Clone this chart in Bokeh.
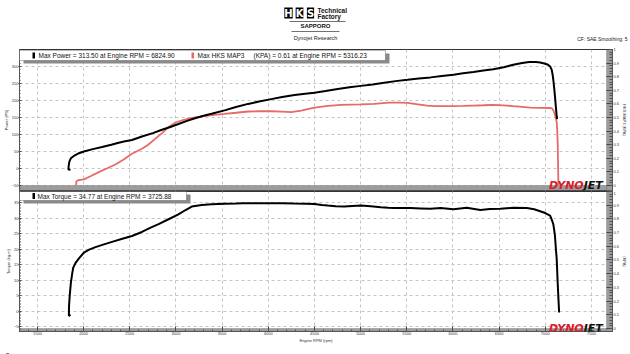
from bokeh.plotting import figure
from bokeh.models import Range1d, LinearAxis, BoxAnnotation, Label, FixedTicker
from bokeh.layouts import column
from bokeh.embed import file_html
from bokeh.resources import INLINE

# ---------------- data ----------------
power_rpm = [1858, 1836, 1838, 1846, 1862, 1895, 1950, 2003, 2100, 2200, 2300, 2380, 2450,
             2524, 2632, 2750, 2848, 2940, 3027, 3120, 3207, 3300, 3386, 3527, 3650, 3782,
             3900, 4033, 4150, 4285, 4400, 4500, 4620, 4752, 4880, 5003, 5130, 5255, 5380,
             5507, 5630, 5758, 5880, 6006, 6110, 6222, 6330, 6437, 6550, 6653, 6750, 6825,
             6900, 6944, 6990, 7030, 7055, 7070, 7080, 7087, 7097, 7105, 7115, 7124, 7128]
power_ps = [-4, -3, 6, 20, 30, 37, 45, 50, 57, 63, 70, 76, 80,
            84, 94, 104, 114, 122, 131, 140, 148, 155, 161, 171, 181, 190,
            197, 204, 210, 216, 220, 223, 228, 234, 239, 243, 247, 252, 257,
            261, 265, 268, 272, 276, 280, 284, 288, 292, 298, 305, 310, 313.5,
            313, 312, 309, 305, 299, 290, 275, 261, 235, 212, 180, 153, 145]

map_rpm = [1920, 1922, 1945, 2003, 2080, 2165, 2250, 2345, 2430, 2524, 2632, 2700, 2775,
           2850, 2920, 3000, 3063, 3140, 3207, 3300, 3386, 3527, 3650, 3782, 3900, 4033,
           4150, 4249, 4357, 4450, 4537, 4650, 4788, 4900, 5003, 5147, 5240, 5316, 5420,
           5507, 5620, 5722, 5800, 5900, 6006, 6110, 6222, 6330, 6437, 6550, 6653, 6750,
           6836, 6950, 7052, 7075, 7087, 7105, 7124, 7130, 7135, 7138, 7141, 7143]
map_kpa = [0.0, 0.03, 0.04, 0.045, 0.07, 0.098, 0.125, 0.154, 0.19, 0.233, 0.27, 0.30, 0.343,
           0.385, 0.43, 0.465, 0.478, 0.492, 0.50, 0.51, 0.518, 0.527, 0.535, 0.544, 0.546, 0.546,
           0.543, 0.539, 0.55, 0.565, 0.576, 0.585, 0.593, 0.595, 0.596, 0.60, 0.606, 0.61, 0.609,
           0.607, 0.597, 0.588, 0.583, 0.584, 0.583, 0.585, 0.588, 0.59, 0.593, 0.589, 0.583, 0.578,
           0.572, 0.571, 0.57, 0.565, 0.553, 0.52, 0.466, 0.40, 0.30, 0.18, 0.05, 0.0]

torque_rpm = [1858, 1841, 1842, 1850, 1862, 1876, 1888, 1913, 1950, 2003, 2060, 2129, 2220,
              2308, 2420, 2524, 2632, 2720, 2812, 2920, 3027, 3100, 3171, 3279, 3386, 3527,
              3650, 3726, 3900, 4033, 4150, 4285, 4400, 4500, 4580, 4645, 4730, 4824, 4910,
              5003, 5110, 5219, 5300, 5363, 5450, 5542, 5650, 5758, 5866, 6006, 6150, 6297,
              6400, 6512, 6653, 6800, 6880, 6944, 7000, 7052, 7070, 7087, 7097, 7105, 7115,
              7124, 7133, 7141, 7150]
torque_kgm = [-1.1, -1.6, 1.5, 5, 9, 12, 14, 15.5, 17, 18.8, 19.8, 20.6, 21.5,
              22.3, 23.3, 24.2, 25.5, 26.8, 28, 29.6, 31.2, 32.5, 33.7, 34.2, 34.4, 34.6,
              34.7, 34.77, 34.75, 34.74, 34.72, 34.65, 34.6, 34.5, 34.2, 34.0, 33.8, 33.7, 33.9,
              34.0, 33.8, 33.5, 33.3, 33.2, 33.2, 33.2, 33.1, 33.0, 33.2, 32.8, 33.3, 32.6,
              32.9, 33.0, 33.3, 33.2, 32.8, 32.2, 31.6, 30.8, 29.5, 28, 26, 24.2, 20,
              16.7, 10, 4.8, -0.5]

rpm_ticks = [1500, 2000, 2500, 3000, 3500, 4000, 4500, 5000, 5500, 6000, 6500, 7000, 7500]
power_ticks = [-50, 0, 50, 100, 150, 200, 250, 300]
map_ticks = [0, 0.1, 0.2, 0.3, 0.4, 0.5, 0.6, 0.7, 0.8, 0.9, 1.0]
torque_ticks = [-5, 0, 5, 10, 15, 20, 25, 30, 35]

legend_power = "Max Power = 313.50 at Engine RPM = 6824.90"
legend_map_a = "Max HKS MAP3"
legend_map_b = "(KPA) = 0.61 at Engine RPM = 5316.23"
legend_torque = "Max Torque = 34.77 at Engine RPM = 3725.88"

# ---------------- styling ----------------
FONT = "Liberation Sans"
TICK_FONT = "'Liberation Sans Narrow', 'Liberation Sans'"
TICK_FS = "4px"
RED = "#e66a6a"
BAND = "#9c9c9c"
GRID = "#c4c4c4"
X_START, X_END = 1306, 7728
RPM_PER_PX = (X_END - X_START) / 596.0
BAND_LEFT = X_END - 6 * RPM_PER_PX
LOGO_SPLIT = 7416


def style_axis(ax):
    ax.major_label_text_font = TICK_FONT
    ax.major_label_text_font_size = TICK_FS
    ax.major_label_text_color = "#333333"
    ax.axis_label_text_font = TICK_FONT
    ax.axis_label_text_font_size = TICK_FS
    ax.axis_label_text_font_style = "normal"
    ax.axis_label_text_color = "#333333"
    ax.axis_line_color = "#555555"
    ax.major_tick_line_color = "#444444"
    ax.minor_tick_line_color = "#555555"
    ax.major_label_standoff = 0
    ax.axis_label_standoff = 0


def style_grid(p):
    for g in (p.xgrid, p.ygrid):
        g.grid_line_color = GRID
        g.grid_line_dash = "3 3"
        g.grid_line_width = 1


def screen_box(left, right, bottom, top, color, line=None):
    return BoxAnnotation(left=left, right=right, bottom=bottom, top=top,
                         left_units="screen", right_units="screen",
                         bottom_units="screen", top_units="screen",
                         fill_color=color, fill_alpha=1, line_color=line, line_width=1)


def add_legend_box(p, left, right, bottom, top):
    p.add_layout(screen_box(left + 4, right + 4, bottom - 3, top - 3, "#8a8a8a"))
    p.add_layout(screen_box(left, right, bottom, top, "white", "#222222"))


def add_text(p, x, y, text, size="6.5px"):
    p.add_layout(Label(x=x, y=y, x_units="screen", y_units="screen", text=text,
                       text_font=FONT, text_font_size=size, text_baseline="middle",
                       text_color="#111111"))


def add_dynojet(p, y):
    p.add_layout(Label(x=LOGO_SPLIT, y=y, text="DYNO", text_align="right",
                       text_font="DejaVu Sans", text_font_size="11px", text_font_style="bold italic",
                       text_color="#d8202a", text_baseline="alphabetic"))
    p.add_layout(Label(x=LOGO_SPLIT, y=y, text="JET", text_align="left",
                       text_font="DejaVu Sans", text_font_size="11px", text_font_style="bold italic",
                       text_color="#111111", text_baseline="alphabetic"))


# ---------------- header ----------------
hdr = figure(width=630, height=46, x_range=Range1d(0, 630), y_range=Range1d(46, 0),
             x_axis_location=None, y_axis_location=None, toolbar_location=None,
             output_backend="svg", min_border=0, frame_align=False)
hdr.grid.visible = False
hdr.outline_line_color = None
for cx, ch in zip([288, 299, 310], ["H", "K", "S"]):
    hdr.add_layout(Label(x=cx, y=12.5, text=ch, text_align="center", text_baseline="middle",
                         text_font="DejaVu Sans", text_font_size="10px", text_font_style="bold",
                         text_color="white", background_fill_color="black"))
hdr.add_layout(Label(x=317, y=9.5, text="Technical", text_baseline="middle",
                     text_font="'Liberation Sans Narrow', 'Liberation Sans'", text_font_size="6.5px",
                     text_font_style="bold", text_color="#111111"))
hdr.add_layout(Label(x=317, y=15.5, text="Factory", text_baseline="middle",
                     text_font="'Liberation Sans Narrow', 'Liberation Sans'", text_font_size="6.5px",
                     text_font_style="bold", text_color="#111111"))
hdr.segment(x0=[289, 291], y0=[21, 31], x1=[345, 339], y1=[21, 31], line_color="#333333", line_width=0.7)
hdr.add_layout(Label(x=315, y=25.5, text="SAPPORO", text_align="center", text_baseline="middle",
                     text_font=FONT, text_font_size="6px", text_font_style="bold", text_color="#111111"))
hdr.add_layout(Label(x=315, y=37.5, text="Dynojet Research", text_align="center", text_baseline="middle",
                     text_font=FONT, text_font_size="5.5px", text_color="#222222"))
hdr.add_layout(Label(x=627, y=38, text="CF: SAE Smoothing: 5", text_align="right", text_baseline="middle",
                     text_font=FONT, text_font_size="5px", text_color="#222222"))

# ---------------- top panel: power + MAP ----------------
top = figure(width=630, height=145, x_range=Range1d(X_START, X_END), y_range=Range1d(-64.7, 350),
             x_axis_location=None, toolbar_location=None, output_backend="svg",
             min_border_left=17, min_border_right=17, min_border_top=3, min_border_bottom=1)
top.outline_line_color = "#333333"
top.extra_y_ranges = {"kpa": Range1d(-0.0368, 1.0)}
top.xgrid.ticker = FixedTicker(ticks=rpm_ticks)
top.yaxis.ticker = FixedTicker(ticks=power_ticks, minor_ticks=list(range(-60, 351, 10)))
top.yaxis.axis_label = "Power (PS)"
top.yaxis.major_tick_out = 1
top.yaxis.major_tick_in = 2
top.yaxis.minor_tick_out = 0
top.yaxis.minor_tick_in = 1
style_axis(top.yaxis[0])
style_grid(top)

rax = LinearAxis(y_range_name="kpa",
                 ticker=FixedTicker(ticks=map_ticks, minor_ticks=[i / 50 for i in range(0, 51)]),
                 axis_label="HKS MAP3 (KPA)", major_label_overrides={0: "0"},
                 major_tick_in=6, major_tick_out=0, minor_tick_in=3, minor_tick_out=0)
style_axis(rax)
rax.major_label_standoff = 1
top.add_layout(rax, "right")

top.add_layout(BoxAnnotation(top=-50, fill_color=BAND, fill_alpha=1, line_color="#5a5a5a",
                             line_width=1, level="underlay"))
top.add_layout(BoxAnnotation(left=BAND_LEFT, fill_color=BAND, fill_alpha=1, line_color="#5a5a5a",
                             line_width=1, level="underlay"))

top.line(map_rpm, map_kpa, y_range_name="kpa", line_color=RED, line_width=1.8)
top.line(power_rpm, power_ps, line_color="black", line_width=2)

add_legend_box(top, 0, 366, 130, 140)
top.add_layout(screen_box(13, 15.5, 132, 138, "black"))
add_text(top, 19, 135, legend_power)
top.add_layout(screen_box(172, 174.5, 132, 138, RED))
add_text(top, 178, 135, legend_map_a)
add_text(top, 234, 135, legend_map_b)
add_dynojet(top, -50)

# ---------------- bottom panel: torque ----------------
bot = figure(width=630, height=155, x_range=top.x_range, y_range=Range1d(-6.61, 38.55),
             toolbar_location=None, output_backend="svg",
             min_border_left=17, min_border_right=17, min_border_top=0, min_border_bottom=15)
bot.outline_line_color = "#333333"
bot.extra_y_ranges = {"r": Range1d(-0.0219, 1.0)}
bot.xaxis.ticker = FixedTicker(ticks=rpm_ticks, minor_ticks=list(range(1400, 7700, 100)))
bot.xaxis.axis_label = "Engine RPM (rpm)"
bot.xaxis.major_tick_in = 5
bot.xaxis.major_tick_out = 0
bot.xaxis.minor_tick_in = 2
bot.xaxis.minor_tick_out = 0
style_axis(bot.xaxis[0])
bot.yaxis.ticker = FixedTicker(ticks=torque_ticks, minor_ticks=[v / 2 for v in range(-12, 78)])
bot.yaxis.axis_label = "Torque (kg-m)"
bot.yaxis.major_tick_out = 1
bot.yaxis.major_tick_in = 2
bot.yaxis.minor_tick_out = 0
bot.yaxis.minor_tick_in = 1
style_axis(bot.yaxis[0])
style_grid(bot)

rax2 = LinearAxis(y_range_name="r",
                  ticker=FixedTicker(ticks=map_ticks, minor_ticks=[i / 50 for i in range(0, 51)]),
                  axis_label="(KPA)", major_label_overrides={0: "0"},
                  major_tick_in=6, major_tick_out=0, minor_tick_in=3, minor_tick_out=0)
style_axis(rax2)
rax2.major_label_standoff = 1
bot.add_layout(rax2, "right")

band_top_kgm = -5.645
bot.add_layout(BoxAnnotation(top=band_top_kgm, fill_color=BAND, fill_alpha=1, line_color="#5a5a5a",
                             line_width=1, level="underlay"))
bot.add_layout(BoxAnnotation(left=BAND_LEFT, fill_color=BAND, fill_alpha=1, line_color="#5a5a5a",
                             line_width=1, level="underlay"))

bot.line(torque_rpm, torque_kgm, line_color="black", line_width=2)

add_legend_box(bot, 0, 167, 131, 140)
bot.add_layout(screen_box(13, 15.5, 132.5, 138.5, "black"))
add_text(bot, 18, 135.5, legend_torque)
add_dynojet(bot, band_top_kgm)

# ---------------- footer (small marker at lower left) ----------------
ftr = figure(width=630, height=8, x_range=Range1d(0, 630), y_range=Range1d(8, 0),
             x_axis_location=None, y_axis_location=None, toolbar_location=None,
             output_backend="svg", min_border=0, frame_align=False)
ftr.grid.visible = False
ftr.outline_line_color = None
ftr.add_layout(BoxAnnotation(left=5.5, right=8.5, top=3, bottom=6, fill_color="black",
                             fill_alpha=1, line_color=None))

layout = column(hdr, top, bot, ftr, spacing=0)
open("out.html", "w").write(file_html(layout, INLINE))
